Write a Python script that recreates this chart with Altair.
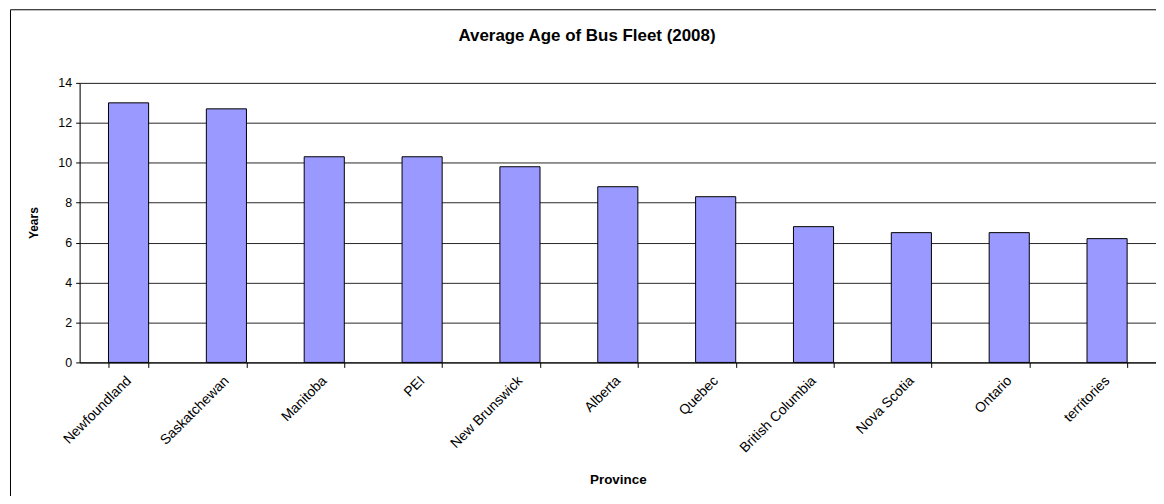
import altair as alt
import pandas as pd

provinces = ["Newfoundland", "Saskatchewan", "Manitoba", "PEI", "New Brunswick",
             "Alberta", "Quebec", "British Columbia", "Nova Scotia", "Ontario", "territories"]
ages = [13.0, 12.7, 10.3, 10.3, 9.8, 8.8, 8.3, 6.8, 6.5, 6.5, 6.2]
y_ticks = [0, 2, 4, 6, 8, 10, 12, 14]
title_text = "Average Age of Bus Fleet (2008)"

df = pd.DataFrame({"Province": provinces, "Years": ages})

W, H = 1082, 281
FONT = "Liberation Sans"

bars = alt.Chart(df).mark_bar(
    fill="#9999FF", stroke="#000000", strokeWidth=1
).encode(
    x=alt.X("Province:N", sort=provinces,
            scale=alt.Scale(paddingInner=0.59, paddingOuter=0.295),
            axis=alt.Axis(title="Province", labelAngle=315, labelAlign="right",
                          labelBaseline="middle", labelPadding=11, labelFontSize=14,
                          tickBand="extent", tickSize=5, tickColor="#000000",
                          domainColor="#000000", labelColor="#000000",
                          titleFontSize=13.5, titleFontWeight="bold", titleColor="#000000",
                          titleY=122, titleBaseline="alphabetic", labelFont=FONT, titleFont=FONT,
                          grid=False)),
    y=alt.Y("Years:Q", scale=alt.Scale(domain=[0, 14], nice=False),
            axis=alt.Axis(title="Years", values=y_ticks, tickSize=4, labelPadding=4,
                          labelFontSize=12.5, tickColor="#000000", domainColor="#000000",
                          labelColor="#000000", titleFontSize=12, titleFontWeight="bold",
                          titleColor="#000000", titlePadding=17, labelFont=FONT, titleFont=FONT,
                          grid=True, gridColor="#000000", gridOpacity=0.85, gridWidth=1)),
)

frame = pd.DataFrame({"k": [0]})
left_border = alt.Chart(frame).mark_rule(color="#000000", strokeWidth=1).encode(
    x=alt.value(-69.5), y=alt.value(-73.5), y2=alt.value(H + 140))
top_border = alt.Chart(frame).mark_rule(color="#000000", strokeWidth=1).encode(
    x=alt.value(-69.5), x2=alt.value(W + 20), y=alt.value(-73.5))

title_df = pd.DataFrame({"t": [title_text]})
title = alt.Chart(title_df).mark_text(
    font=FONT, fontSize=17, fontWeight="bold", color="#000000",
    align="center", baseline="alphabetic"
).encode(x=alt.value(510), y=alt.value(-42), text="t:N")

chart = alt.layer(bars, left_border, top_border, title).properties(
    width=W, height=H,
    padding={"left": 72, "top": 74, "right": 0, "bottom": 133},
    autosize=alt.AutoSizeParams(type="none"),
).configure_view(
    fill="#C0C0C0", stroke="#808080", strokeWidth=1
).configure(background="#FFFFFF")

chart.save("out.html", embed_options={"renderer": "svg", "actions": False})
